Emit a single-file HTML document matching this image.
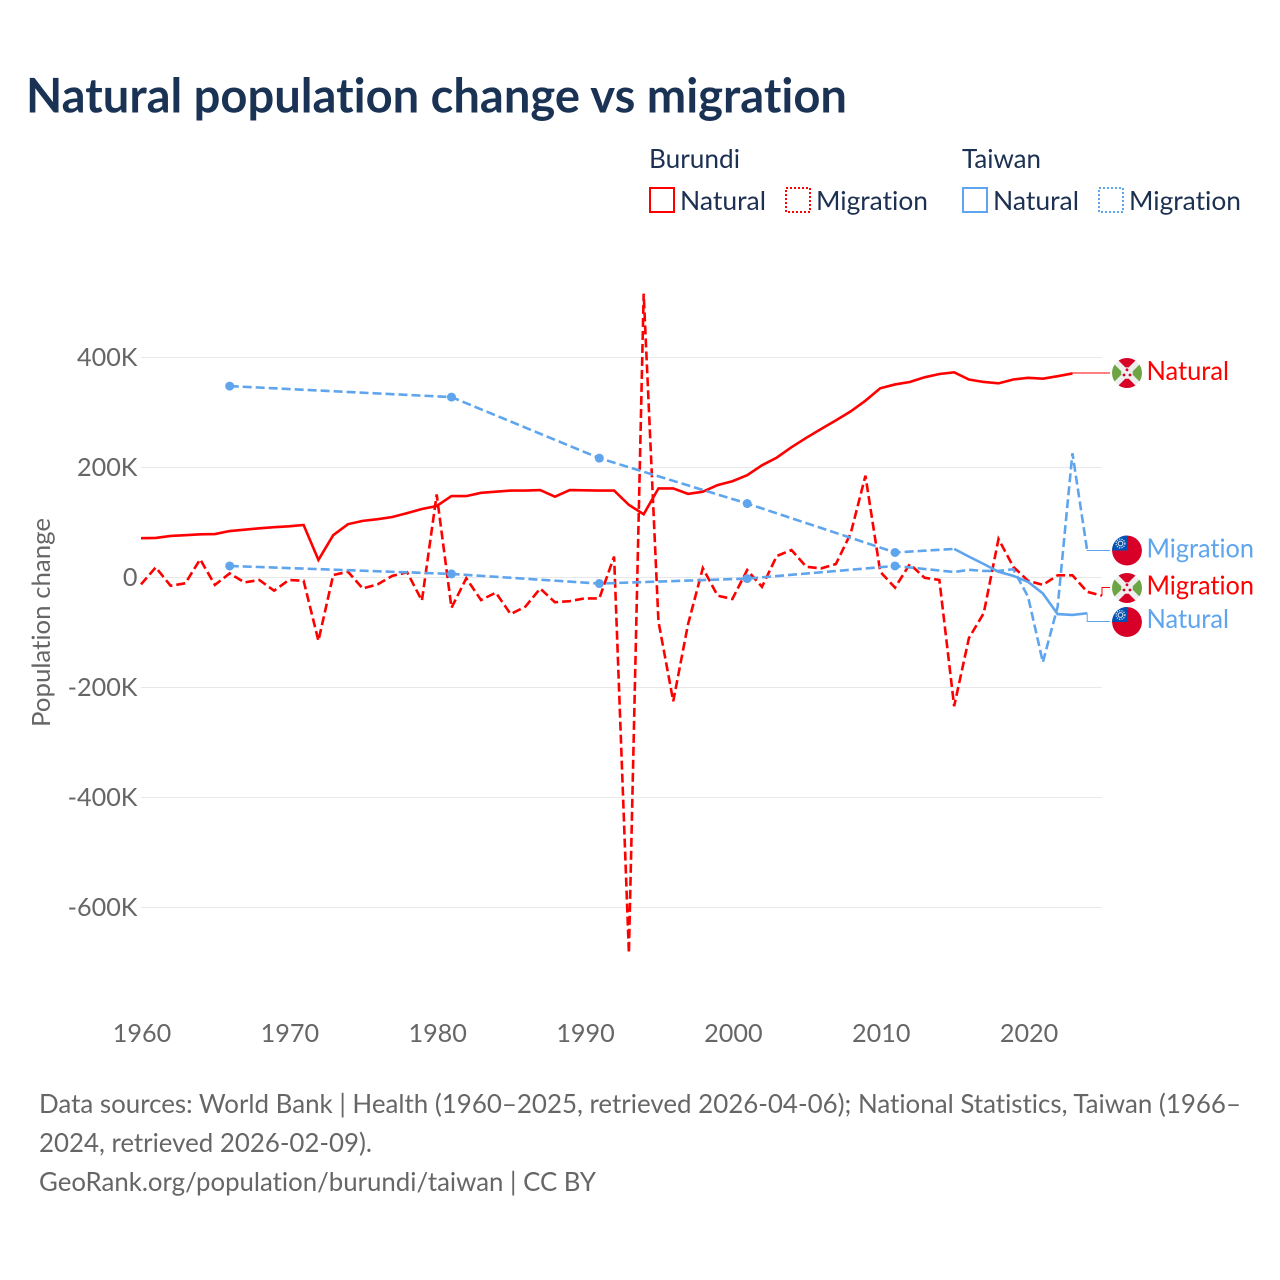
<!DOCTYPE html>
<html lang="en">
<head>
<meta charset="utf-8">
<title>Natural population change vs migration</title>
<style>
html,body{margin:0;padding:0;background:#fff;}
svg{display:block;}
text{font-family:"Lato","Carlito","Liberation Sans",sans-serif;font-variant-ligatures:none;}
.title{font-size:47.5px;font-weight:700;fill:#1a3355;}
.legend{font-size:26px;fill:#1c3052;}
.tick{font-size:25.2px;fill:#666;}
.foot{font-size:26px;fill:#666;}
.lab{font-size:26px;}
</style>
</head>
<body>
<svg id="chart" xmlns="http://www.w3.org/2000/svg" width="1280" height="1280" viewBox="0 0 1280 1280">
  <defs>
    <clipPath id="flag-clip"><circle cx="0" cy="0" r="15"/></clipPath>
    <g id="flag-burundi" clip-path="url(#flag-clip)">
      <circle r="15" fill="#eeeeee"/>
      <polygon points="-11,-15 11,-15 0,-4" fill="#d80027"/>
      <polygon points="-11,15 11,15 0,4" fill="#d80027"/>
      <polygon points="-15,-11 -15,11 -4,0" fill="#6da544"/>
      <polygon points="15,-11 15,11 4,0" fill="#6da544"/>
      <circle r="5.8" fill="#eeeeee"/>
      <circle r="1.4" cx="0" cy="-3.2" fill="#d80027"/>
      <circle r="1.4" cx="-3" cy="2" fill="#d80027"/>
      <circle r="1.4" cx="3" cy="2" fill="#d80027"/>
    </g>
    <g id="flag-taiwan" clip-path="url(#flag-clip)">
      <circle r="15" fill="#d80027"/>
      <rect x="-15" y="-15" width="15" height="15" fill="#0052b4"/>
      <circle cx="-6.5" cy="-7" r="2.4" fill="none" stroke="#eeeeee" stroke-width="1"/>
      <circle cx="-6.5" cy="-7" r="4.4" fill="none" stroke="#eeeeee" stroke-width="1.2" stroke-dasharray="1.2 1.2"/>
    </g>
  </defs>

  <text class="title" x="26" y="112.5" textLength="821" lengthAdjust="spacingAndGlyphs">Natural population change vs migration</text>

  <g>
    <text class="legend" x="649" y="168" textLength="91" lengthAdjust="spacingAndGlyphs">Burundi</text>
    <text class="legend" x="962" y="168" textLength="79" lengthAdjust="spacingAndGlyphs">Taiwan</text>
    <rect x="650" y="188" width="24" height="24" fill="none" stroke="#ff0000" stroke-width="2"/>
    <text class="legend" x="680" y="210" textLength="86" lengthAdjust="spacingAndGlyphs">Natural</text>
    <rect x="786" y="188" width="24" height="24" fill="none" stroke="#ff0000" stroke-width="2" stroke-dasharray="2 2"/>
    <text class="legend" x="816" y="210" textLength="112" lengthAdjust="spacingAndGlyphs">Migration</text>
    <rect x="963" y="188" width="24" height="24" fill="none" stroke="#5ea5ee" stroke-width="2"/>
    <text class="legend" x="993" y="210" textLength="86" lengthAdjust="spacingAndGlyphs">Natural</text>
    <rect x="1099" y="188" width="24" height="24" fill="none" stroke="#5ea5ee" stroke-width="2" stroke-dasharray="2 2"/>
    <text class="legend" x="1129" y="210" textLength="112" lengthAdjust="spacingAndGlyphs">Migration</text>
  </g>

  <text class="tick" transform="translate(50,622.5) rotate(-90)" text-anchor="middle" textLength="209" lengthAdjust="spacingAndGlyphs">Population change</text>

  <g id="grid"></g>
  <g id="yticks"></g>
  <g id="xticks"></g>
  <g id="connectors"></g>
  <g id="series"></g>
  <g id="dots"></g>

  <g>
    <use href="#flag-burundi" x="1127" y="373"/>
    <text class="lab" x="1146.5" y="380" fill="#ff0000" textLength="82.5" lengthAdjust="spacingAndGlyphs">Natural</text>
    <use href="#flag-taiwan" x="1127" y="550.5"/>
    <text class="lab" x="1146.5" y="557.5" fill="#5ea5ee" textLength="107.5" lengthAdjust="spacingAndGlyphs">Migration</text>
    <use href="#flag-burundi" x="1127" y="588"/>
    <text class="lab" x="1146.5" y="594.5" fill="#ff0000" textLength="107.5" lengthAdjust="spacingAndGlyphs">Migration</text>
    <use href="#flag-taiwan" x="1127" y="622"/>
    <text class="lab" x="1146.5" y="628" fill="#5ea5ee" textLength="82.5" lengthAdjust="spacingAndGlyphs">Natural</text>
  </g>

  <g>
    <text class="foot" x="39" y="1113" textLength="1202" lengthAdjust="spacingAndGlyphs">Data sources: World Bank | Health (1960–2025, retrieved 2026-04-06); National Statistics, Taiwan (1966–</text>
    <text class="foot" x="39" y="1152" textLength="333" lengthAdjust="spacingAndGlyphs">2024, retrieved 2026-02-09).</text>
    <text class="foot" x="39" y="1191" textLength="557" lengthAdjust="spacingAndGlyphs">GeoRank.org/population/burundi/taiwan | CC BY</text>
  </g>
</svg>
<script>
const firstYear = 1960;
const xTickLabels = [1960, 1970, 1980, 1990, 2000, 2010, 2020];
const yTickValues = [400, 200, 0, -200, -400, -600];

const burundiNatural = [
  71.5,72,75.5,77,78.5,79,
  84.5,87,89.5,91.5,93,95.5,
  32,77,97,103,106,110,117,124.5,
  130,148,148,154,156,158,158,159,147,159,
  158.5,158,158,132,115,162,162,152,156,168,
  175,186,204,218,237,254,270,285.6,302,321.5,
  344,351,355.5,364,370,373,360,355.5,353,360,
  363,361.5,366,371,null,null
];
const burundiMigration = [
  -12.5,18.5,-15,-10.5,33,-13.5,
  7.5,-9,-4.5,-24,-4.5,-6,
  -115,4.5,10.5,-20,-12.5,3,9.5,-42,
  151,-55,-1.5,-41,-27.5,-66.5,-53,-20,-45,-43,
  -38,-38,38,-683,516,-80,-225,-85,17,-33,
  -39,13.5,-17,39,50,19.5,16.5,24.5,80,185,
  10.5,-18.5,24.5,-0.5,-4.5,-234,-110,-65,70,19.5,
  -6,-13.5,4,4,-26,-33
];
const taiwanNatural = [
  null,null,null,null,null,null,
  348,null,null,null,null,null,
  null,null,null,null,null,null,null,null,
  null,328,null,null,null,null,null,null,null,null,
  null,217,null,null,null,null,null,null,null,null,
  null,134.5,null,null,null,null,null,null,null,null,
  null,45.5,null,null,null,52,38,24.5,10.5,3,
  -8,-29,-66.5,-68,-65,null
];
const taiwanMigration = [
  null,null,null,null,null,null,
  21,null,null,null,null,null,
  null,null,null,null,null,null,null,null,
  null,6.5,null,null,null,null,null,null,null,null,
  null,-11,null,null,null,null,null,null,null,null,
  null,-2,null,null,null,null,null,null,null,null,
  null,21,null,null,null,10,14,12,12,15,
  -35,-154,-53,226,48.5,null
];

const RED = '#ff0000';
const BLUE = '#5ea5ee';
const NS = 'http://www.w3.org/2000/svg';
const PLOT_LEFT = 141;
const PLOT_RIGHT = 1102;
const LABEL_X = 1110;

function xScale(year) { return PLOT_LEFT + (year - firstYear) * (PLOT_RIGHT - PLOT_LEFT) / 65; }
function yScale(k) { return 577.5 - k * 0.55; }
function fmtY(v) { return v === 0 ? '0' : v + 'K'; }
function make(tag, parentId) {
  const el = document.createElementNS(NS, tag);
  document.getElementById(parentId).appendChild(el);
  return el;
}

yTickValues.forEach(function (v) {
  const line = make('line', 'grid');
  
  
  line.setAttribute('x1', PLOT_LEFT);
  line.setAttribute('x2', PLOT_RIGHT);
  line.setAttribute('y1', yScale(v));
  line.setAttribute('y2', yScale(v));
  line.setAttribute('stroke', '#e8e8e8');
  line.setAttribute('stroke-width', '1');
  const t = make('text', 'yticks');
  
  
  t.setAttribute('class', 'tick');
  t.setAttribute('x', 137.5);
  t.setAttribute('y', yScale(v) + 8.5);
  t.setAttribute('text-anchor', 'end');
  t.textContent = fmtY(v);
});

xTickLabels.forEach(function (yr) {
  const t = make('text', 'xticks');
  
  
  t.setAttribute('class', 'tick');
  t.setAttribute('x', xScale(yr) + 1);
  t.setAttribute('y', 1042);
  t.setAttribute('text-anchor', 'middle');
  t.textContent = yr;
});

function points(values) {
  const out = [];
  values.forEach(function (v, i) {
    if (v !== null) out.push({ i: i, v: v, x: xScale(firstYear + i), y: yScale(v) });
  });
  return out;
}

function drawSegment(pts, color, dashed) {
  const p = make('polyline', 'series');
  
  
  p.setAttribute('points', pts.map(function (q) { return q.x.toFixed(2) + ',' + q.y.toFixed(2); }).join(' '));
  p.setAttribute('fill', 'none');
  p.setAttribute('stroke', color);
  p.setAttribute('stroke-width', '2.6');
  p.setAttribute('stroke-linejoin', 'miter');
  if (dashed) p.setAttribute('stroke-dasharray', '9 4');
}

function drawSeries(values, color, alwaysDashed, labelY) {
  const pts = points(values);
  if (alwaysDashed) {
    drawSegment(pts, color, true);
  } else {
    let run = [pts[0]];
    let runGap = null;
    for (let k = 1; k < pts.length; k++) {
      const gap = pts[k].i - pts[k - 1].i > 1;
      if (runGap === null || runGap === gap) {
        run.push(pts[k]);
      } else {
        drawSegment(run, color, runGap);
        run = [pts[k - 1], pts[k]];
      }
      runGap = gap;
    }
    drawSegment(run, color, runGap);
  }
  pts.forEach(function (q, k) {
    const prevGap = k === 0 || q.i - pts[k - 1].i > 1;
    const nextGap = k === pts.length - 1 || pts[k + 1].i - q.i > 1;
    if (prevGap && nextGap) {
      const c = make('circle', 'dots');
      
      
      c.setAttribute('cx', q.x);
      c.setAttribute('cy', q.y);
      c.setAttribute('r', '4.5');
      c.setAttribute('fill', color);
    }
  });
  const last = pts[pts.length - 1];
  const conn = make('path', 'connectors');
  
  
  conn.setAttribute('d', 'M' + last.x.toFixed(2) + ' ' + last.y.toFixed(2) + 'V' + labelY + 'H' + LABEL_X);
  conn.setAttribute('fill', 'none');
  conn.setAttribute('stroke', color);
  conn.setAttribute('stroke-width', '1');
}

drawSeries(burundiNatural, RED, false, 373);
drawSeries(burundiMigration, RED, true, 587.5);
drawSeries(taiwanNatural, BLUE, false, 621.5);
drawSeries(taiwanMigration, BLUE, true, 550.5);
</script>
</body>
</html>
